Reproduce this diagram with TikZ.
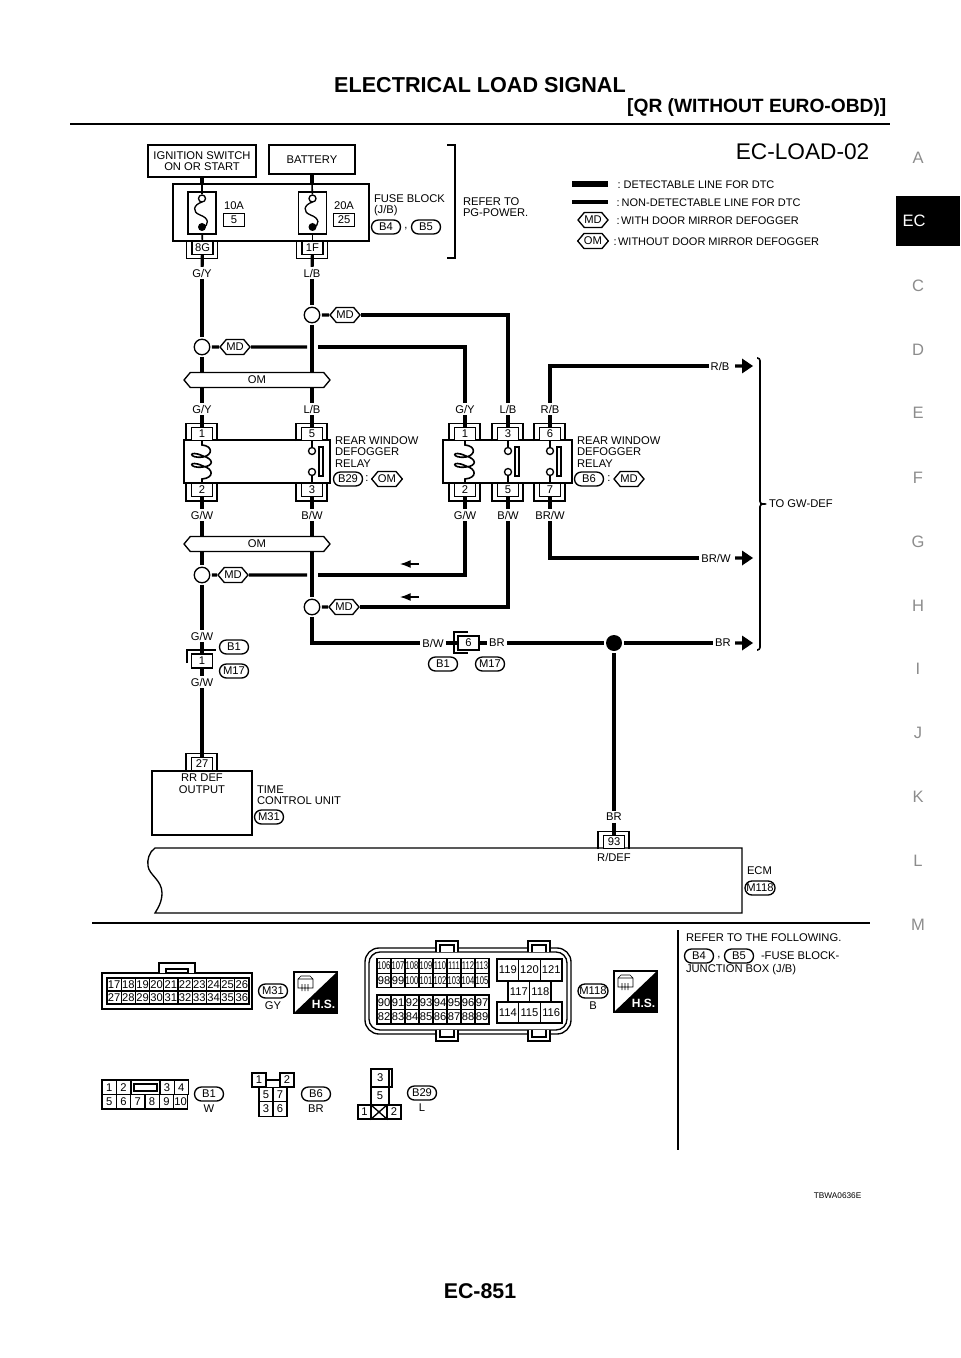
\documentclass[tikz,border=0pt]{standalone}
\usepackage{fontspec}
\setmainfont{Liberation Sans}
\usetikzlibrary{arrows.meta, positioning, shapes.misc, shapes.symbols, calc}
\def\px{0.75pt}
\begin{document}
\begin{tikzpicture}[
            x=\px, y=-\px,
            line width=1pt,
            wl/.style={font=\fontsize{8.4}{8.6}\selectfont, inner sep=1pt, align=left},
            legtext/.style={font=\fontsize{8.25}{8.6}\selectfont, inner sep=0pt, anchor=west},
            cellbox/.style={draw, line width=.85pt, font=\fontsize{8.4}{8.6}\selectfont, inner sep=0pt},
            pinbox/.style={draw, fill=white, font=\fontsize{8.4}{8.6}\selectfont, inner sep=0pt, minimum width=21*\px, minimum height=13*\px},
            pill/.style={draw, font=\fontsize{8.4}{8.6}\selectfont, inner sep=0pt, minimum width=#1*\px, minimum height=14*\px, rounded corners=6.9*\px},
            pill/.default=29,
            hexa/.style={draw, fill=white, font=\fontsize{8.4}{8.6}\selectfont, shape=signal, signal to=west and east, signal pointer angle=100, inner sep=0pt, minimum width=28*\px, minimum height=15*\px},
            band/.style={hexa, minimum width=146*\px, minimum height=15*\px},
            opencirc/.style={draw, circle, fill=white, inner sep=0pt, minimum size=15.5*\px, outer sep=1.6pt},
            smallcirc/.style={draw, circle, fill=white, inner sep=0pt, minimum size=7*\px},
            blackdot/.style={circle, fill=black, inner sep=0pt, minimum size=#1*\px, outer sep=1.6pt},
            wire/.style={line width=2.4pt},
            thin wire/.style={line width=1.2pt},
            tab/.style={font=\fontsize{12.4}{13}\selectfont, text=black!45, inner sep=0pt}
        ]
        \useasboundingbox (0,0) rectangle (960,1358);

        \def\plugtop#1#2#3#4{
            \node[pinbox] (#1) at (#2,#3) {#4};
            \draw (#1.south west) ++(-5,0) -- ++(0,-18) -- ++(31,0) -- ++(0,18);
        }
        \def\plugbot#1#2#3#4{
            \node[pinbox] (#1) at (#2,#3) {#4};
            \draw (#1.north west) ++(-5,0) -- ++(0,18) -- ++(31,0) -- ++(0,-18);
        }
        \def\sigarrow#1#2{
            \fill (#1,#2) +(-18,-1.6) -- +(-11,-1.6) -- +(-11,-7.5) -- +(0,0) -- +(-11,7.5) -- +(-11,1.6) -- +(-18,1.6) -- cycle;
        }
        \def\hsicon#1#2#3{
            \draw (#2,#3) rectangle ++(43,41);
            \fill (#2,#3) ++(43,0) -- ++(0,41) -- ++(-43,0) -- cycle;
            \node[font=\bfseries\fontsize{9}{9}\selectfont, text=white, inner sep=0pt] (#1) at ($(#2,#3)+(29.5,32)$) {H.S.};
            \draw[line width=.5pt] (#2,#3) ++(4,7) -- ++(3,-3) -- ++(9,0) -- ++(3,3) -- ++(0,9) -- ++(-15,0) -- cycle
                (#2,#3) ++(4,7) -- ++(15,0)
                (#2,#3) ++(8,12) -- ++(0,7) ++(3,-7) -- ++(0,7) ++(3,-7) -- ++(0,7);
        }

        % page furniture
        \node[font=\bfseries\fontsize{16.2}{17}\selectfont, inner sep=0pt] (title) at (480,85) {ELECTRICAL LOAD SIGNAL};
        \node[font=\bfseries\fontsize{14.4}{15}\selectfont, inner sep=0pt, anchor=east] (subtitle) at (887,108) {[QR (WITHOUT EURO-OBD)]};
        \coordinate (ruleL) at (70,124);
        \coordinate (ruleR) at (890,124);
        \draw[line width=2.2pt] (ruleL) -- (ruleR);
        \node[font=\fontsize{17}{17}\selectfont, inner sep=0pt, anchor=east] (sheet) at (870,152) {EC-LOAD-02};
        \foreach \t/\y in {A/158, C/286, D/350, E/413, F/478, G/542, H/606, I/669, J/733, K/797, L/861, M/925}
            \node[tab] (tab-\t) at (918,\y) {\t};
        \fill (896,196) rectangle (960,246);
        \node[tab, text=white] (tab-EC) at (914,221) {EC};
        \node[font=\bfseries\fontsize{16}{17}\selectfont, inner sep=0pt] (pageno) at (480,1291) {EC-851};
        \node[font=\fontsize{6.2}{7}\selectfont, inner sep=0pt, anchor=east] (figno) at (862,1196) {TBWA0636E};

        % power feed
        \node[draw, minimum width=108*\px, minimum height=32*\px, inner sep=0pt, align=center, font=\fontsize{8.4}{8.6}\selectfont] (ign) at (202,161) {IGNITION SWITCH\\ON OR START};
        \node[draw, minimum width=86*\px, minimum height=29*\px, inner sep=0pt, font=\fontsize{8.4}{8.6}\selectfont] (bat) at (312,159.5) {BATTERY};
        \node[draw, minimum width=196*\px, minimum height=57*\px] (fb) at (271,212.5) {};
        \node[draw, minimum width=28*\px, minimum height=42*\px] (fuseA) at (202,213) {};
        \node[draw, minimum width=28*\px, minimum height=42*\px] (fuseB) at (312.5,213) {};
        \node[wl] (a10) at (234,206) {10A};
        \node[pinbox] (f5) at (234,220) {5};
        \node[wl] (a20) at (344,206) {20A};
        \node[pinbox] (f25) at (344,220) {25};
        \node[smallcirc] (fao) at (202,198.5) {};
        \node[smallcirc] (fbo) at (312.5,198.5) {};
        \node[blackdot=8] (fad) at (202,227) {};
        \node[blackdot=8] (fbd) at (312.5,227) {};
        \foreach \x in {202, 312.5}
            \draw (\x,202) .. controls (\x-9,205) and (\x-10,212) .. (\x-2,215) .. controls (\x+7,218) and (\x+8,225) .. (\x,228);
        \node[wl, anchor=west] (fbtext) at (372,205) {FUSE BLOCK\\(J/B)};
        \node[pill] (pb4) at (386,227) {B4};
        \node[pill] (pb5) at (426,227) {B5};
        \node[wl] (pcomma) at (406,229) {,};
        \coordinate (refA) at (447,145);
        \coordinate (refB) at (447,258);
        \draw (refA) -- ++(8,0) -- ++(0,113) -- (refB);
        \node[wl, anchor=west] (reftext) at (461,207) {REFER TO\\PG-POWER.};
        \plugbot{p8g}{202.5}{248}{8G}
        \plugbot{p1f}{312.5}{248}{1F}
        \draw[wire] (ign) -- (ign |- fb.north);
        \draw[wire] (bat) -- (bat |- fb.north);
        \draw[thin wire] (ign |- fb.north) -- (fao);
        \draw[thin wire] (bat |- fb.north) -- (fbo);
        \draw[thin wire] (fad) -- (p8g);
        \draw[thin wire] (fbd) -- (p1f);

        % legend
        \coordinate (legA) at (572,184);
        \coordinate (legB) at (608,184);
        \coordinate (legC) at (572,202);
        \coordinate (legD) at (608,202);
        \draw[line width=4.6pt] (legA) -- (legB);
        \draw[wire] (legC) -- (legD);
        \node[legtext] (leg1) at (617,185) {:\hspace{2.2pt}DETECTABLE LINE FOR DTC};
        \node[legtext] (leg2) at (616,203) {:\hspace{1.5pt}NON-DETECTABLE LINE FOR DTC};
        \node[hexa] (leg3h) at (593,220) {MD};
        \node[legtext] (leg3) at (616,221) {:\hspace{1pt}WITH DOOR MIRROR DEFOGGER};
        \node[hexa] (leg4h) at (593,241) {OM};
        \node[legtext] (leg4) at (613,242) {:\hspace{1pt}WITHOUT DOOR MIRROR DEFOGGER};

        % splices above the relays
        \node[wl] (gyA) at (202,273) {G/Y};
        \node[wl] (lbA) at (312,273) {L/B};
        \node[opencirc] (spA) at (202,347) {};
        \node[opencirc] (spB) at (312,315) {};
        \node[hexa] (mdA) at (235,347) {MD};
        \node[hexa] (mdB) at (345,315) {MD};
        \node[wl] (gyB) at (202,409) {G/Y};
        \node[wl] (lbB) at (312,409) {L/B};
        \node[wl] (gyC) at (465,409) {G/Y};
        \node[wl] (lbC) at (508,409) {L/B};
        \node[wl] (rbC) at (550,409) {R/B};
        \node[wl] (rbD) at (720,366) {R/B};
        \coordinate (gapA) at (307,347);
        \coordinate (gapB) at (318,347);
        \draw[wire] (p8g) -- (gyA);
        \draw[wire] (p1f) -- (lbA);
        \draw[wire] (gyA) -- (spA);
        \draw[wire] (lbA) -- (spB);
        \draw[wire] (spA) -- (gyB);
        \draw[wire] (spB) -- (lbB);
        \draw[wire] (spA) -- (mdA);
        \draw[wire] (spB) -- (mdB);
        \draw[wire] (mdA) -- (gapA);
        \draw[wire] (gapB) -| (gyC);
        \draw[wire] (mdB) -| (lbC);
        \draw[wire] (rbC) |- (rbD);
        \node[band] (omA) at (257,380) {OM};

        % relay, OM version
        \node[draw, minimum width=146*\px, minimum height=43*\px] (relA) at (257,461.5) {};
        \plugtop{rA1}{202}{434}{1}
        \plugtop{rA5}{312}{434}{5}
        \plugbot{rA2}{202}{490}{2}
        \plugbot{rA3}{312}{490}{3}
        \node[smallcirc] (rAa) at (312,451) {};
        \node[smallcirc] (rAb) at (312,472) {};
        \node[draw, minimum width=4*\px, minimum height=29*\px, inner sep=0pt] (rAbar) at (321,461.5) {};
        \draw[thin wire] (rA5) -- (rAa);
        \draw[thin wire] (rAb) -- (rA3);
        \node[wl, anchor=west] (rAtext) at (333,452) {REAR WINDOW\\DEFOGGER\\RELAY};
        \node[pill] (pb29) at (348,479) {B29};
        \node[wl] (rAc) at (367,479) {:};
        \node[hexa] (omB) at (387,479) {OM};

        % relay, MD version
        \node[draw, minimum width=129*\px, minimum height=43*\px] (relB) at (507.5,461.5) {};
        \plugtop{rB1}{465}{434}{1}
        \plugtop{rB3}{508}{434}{3}
        \plugtop{rB6}{550}{434}{6}
        \plugbot{rB2}{465}{490}{2}
        \plugbot{rB5}{508}{490}{5}
        \plugbot{rB7}{550}{490}{7}
        \foreach \n/\a/\b/\x in {k/rB3/rB5/508, m/rB6/rB7/550} {
            \node[smallcirc] (rB\n a) at (\x,451) {};
            \node[smallcirc] (rB\n b) at (\x,472) {};
            \node[draw, minimum width=4*\px, minimum height=29*\px, inner sep=0pt] (rB\n bar) at (\x+9,461.5) {};
            \draw[thin wire] (\a) -- (rB\n a);
            \draw[thin wire] (rB\n b) -- (\b);
        }
        \foreach \x in {202, 465}
            \draw[thin wire] (\x,440) -- (\x,445) .. controls (\x+11,446) and (\x+11,455) .. (\x+1,457) .. controls (\x-14,459) and (\x-14,449) .. (\x+1,456)
                .. controls (\x+12,459) and (\x+12,466) .. (\x+1,467) .. controls (\x-14,469) and (\x-14,459) .. (\x+1,466)
                .. controls (\x+12,469) and (\x+12,478) .. (\x,479) -- (\x,483);
        \node[wl, anchor=west] (rBtext) at (575,452) {REAR WINDOW\\DEFOGGER\\RELAY};
        \node[pill] (pb6) at (589,479) {B6};
        \node[wl] (rBc) at (609,479) {:};
        \node[hexa] (mdR) at (629,479) {MD};
        \draw[wire] (gyB) -- (rA1);
        \draw[wire] (lbB) -- (rA5);
        \draw[wire] (gyC) -- (rB1);
        \draw[wire] (lbC) -- (rB3);
        \draw[wire] (rbC) -- (rB6);

        % below the relays
        \node[wl] (gwA) at (202,515) {G/W};
        \node[wl] (bwA) at (312,515) {B/W};
        \node[wl] (gwB) at (465,515) {G/W};
        \node[wl] (bwB) at (508,515) {B/W};
        \node[wl] (brwA) at (550,515) {BR/W};
        \node[wl] (brwB) at (716,558) {BR/W};
        \node[opencirc] (spC) at (202,575) {};
        \node[opencirc] (spD) at (312,607) {};
        \node[hexa] (mdC) at (233,575) {MD};
        \node[hexa] (mdD) at (344,607) {MD};
        \node[wl] (gwC) at (202,636) {G/W};
        \node[wl] (bwC) at (433,643) {B/W};
        \node[pinbox, minimum height=14*\px] (p6) at (468.5,643) {6};
        \draw (468,632) -- (454,632) -- (454,653) -- (468,653);
        \node[wl] (brA) at (497,643) {BR};
        \node[blackdot=16] (jn) at (614,643) {};
        \node[wl] (brB) at (723,643) {BR};
        \node[wl] (brC) at (614,817) {BR};
        \node[pill] (pb1a) at (443,664) {B1};
        \node[pill] (pm17a) at (490,664) {M17};
        \coordinate (gapC) at (307,575);
        \coordinate (gapD) at (318,575);
        \draw[wire] (rA2) -- (gwA);
        \draw[wire] (rA3) -- (bwA);
        \draw[wire] (rB2) -- (gwB);
        \draw[wire] (rB5) -- (bwB);
        \draw[wire] (rB7) -- (brwA);
        \draw[wire] (gwA) -- (spC);
        \draw[wire] (bwA) -- (spD);
        \draw[wire] (spC) -- (mdC);
        \draw[wire] (spD) -- (mdD);
        \draw[wire] (mdC) -- (gapC);
        \draw[wire] (gapD) -| (gwB);
        \draw[wire] (mdD) -| (bwB);
        \draw[wire] (brwA) |- (brwB);
        \draw[wire] (spC) -- (gwC);
        \draw[wire] (spD) |- (bwC);
        \draw[wire] (bwC) -- (p6);
        \draw[wire] (p6) -- (brA);
        \draw[wire] (brA) -- (jn);
        \draw[wire] (jn) -- (brB);
        \draw[wire] (jn) -- (brC);
        \node[band] (omC) at (257,544) {OM};
        \coordinate (flowAs) at (419,564);
        \coordinate (flowAe) at (400,564);
        \coordinate (flowBs) at (419,597);
        \coordinate (flowBe) at (400,597);
        \draw[-{Latex[length=8pt,width=6pt]}] (flowAs) -- (flowAe);
        \draw[-{Latex[length=8pt,width=6pt]}] (flowBs) -- (flowBe);

        % outputs to GW-DEF
        \sigarrow{753}{366}
        \sigarrow{753}{558}
        \sigarrow{753}{643}
        \coordinate (brkA) at (757,358);
        \coordinate (brkB) at (757,650);
        \draw[line width=1.2pt, rounded corners=2pt] (brkA) -- (760,358) -- (760,504) -- (763,504) -- (760,504) -- (760,650) -- (brkB);
        \node[wl, anchor=west] (gwdef) at (767,504) {TO GW-DEF};

        % time control unit
        \node[pinbox, minimum height=14*\px] (p1b) at (202,661) {1};
        \draw (187,663) -- (187,650) -- (216,650);
        \node[pill] (pb1b) at (234,647) {B1};
        \node[pill] (pm17b) at (234,671) {M17};
        \node[wl] (gwD) at (202,682) {G/W};
        \plugtop{p27}{202}{764}{27}
        \node[draw, minimum width=100*\px, minimum height=64*\px] (tcu) at (202,803) {};
        \node[wl, align=center, anchor=north] (tcuT) at (202,772) {RR DEF\\OUTPUT};
        \node[wl, anchor=west] (tcuL) at (255,795) {TIME\\CONTROL UNIT};
        \node[pill] (pm31) at (269,817) {M31};
        \draw[wire] (gwC) -- (p1b);
        \draw[wire] (p1b) -- (gwD);
        \draw[wire] (gwD) -- (p27);

        % ecm
        \draw (742,848) -- (155,848) .. controls (149,852) and (147,860) .. (148,866) .. controls (149,875) and (162,880) .. (162,893)
            .. controls (162,902) and (158,908) .. (155,913) -- (742,913) -- cycle;
        \plugtop{p93}{614}{842}{93}
        \node[wl] (rdef) at (614,857) {R/DEF};
        \node[wl, anchor=west] (ecm) at (745,871) {ECM};
        \node[pill=30] (pm118) at (760,888) {M118};
        \draw[wire] (brC) -- (p93);

        % lower panel
        \coordinate (lowA) at (92,923);
        \coordinate (lowB) at (870,923);
        \coordinate (lowC) at (678,930);
        \coordinate (lowD) at (678,1150);
        \draw (lowA) -- (lowB);
        \draw (lowC) -- (lowD);
        \node[wl, anchor=west] (noteA) at (684,938) {REFER TO THE FOLLOWING.};
        \node[pill] (npb4) at (699,956) {B4};
        \node[wl] (ncm) at (719,958) {,};
        \node[pill] (npb5) at (739,956) {B5};
        \node[wl, anchor=west] (noteB) at (759,956) {-FUSE BLOCK-};
        \node[wl, anchor=west] (noteC) at (684,970) {JUNCTION BOX (J/B)};

        % connector M31
        \draw (102,973) rectangle (252,1009);
        \draw[fill=white] (159,973) |- (195,963) -- (195,973);
        \draw[line width=1.2pt] (166,969) rectangle (188,973);
        \foreach \n [count=\i from 0] in {17,...,26}
            \node[cellbox, minimum width=14.2*\px, minimum height=13*\px] (m31-\n) at (114.1+\i*14.2,984.5) {\n};
        \foreach \n [count=\i from 0] in {27,...,36}
            \node[cellbox, minimum width=14.2*\px, minimum height=13*\px] (m31-\n) at (114.1+\i*14.2,997.5) {\n};
        \node[pill] (lm31) at (273,991) {M31};
        \node[wl] (lgy) at (273,1006) {GY};
        \hsicon{hsA}{294}{972}

        % connector M118
        \draw[rounded corners=14*\px] (365,948) rectangle (571,1034);
        \draw[rounded corners=11*\px] (369,952) rectangle (567,1030);
        \foreach \x in {436, 528} {
            \draw[fill=white] (\x,952) |- (\x+22,941) -- (\x+22,952);
            \draw (\x+4,952) |- (\x+18,945) -- (\x+18,952);
            \draw[fill=white] (\x,1030) |- (\x+22,1041) -- (\x+22,1030);
            \draw (\x+4,1030) |- (\x+18,1037) -- (\x+18,1030);
        }
        \def\nar#1{\scalebox{.68}[1]{#1}}
        \foreach \n [count=\i from 0] in {106,...,113}
            \node[cellbox, minimum width=14*\px, minimum height=14.2*\px] (m118-\n) at (384+\i*14,966) {\nar{\n}};
        \foreach \n [count=\i from 0] in {98,99,100,101,102,103,104,105}
            \node[cellbox, minimum width=14*\px, minimum height=14.2*\px] (m118-\n) at (384+\i*14,980.2) {\ifnum\n<100 \n\else\nar{\n}\fi};
        \foreach \n [count=\i from 0] in {90,...,97}
            \node[cellbox, minimum width=14*\px, minimum height=14.5*\px] (m118-\n) at (384+\i*14,1002.2) {\n};
        \foreach \n [count=\i from 0] in {82,...,89}
            \node[cellbox, minimum width=14*\px, minimum height=14.5*\px] (m118-\n) at (384+\i*14,1016.7) {\n};
        \foreach \n [count=\i from 0] in {119,120,121}
            \node[cellbox, minimum width=21.7*\px, minimum height=22*\px] (m118-\n) at (507.8+\i*21.7,970) {\n};
        \foreach \n [count=\i from 0] in {117,118}
            \node[cellbox, minimum width=21.5*\px, minimum height=21*\px] (m118-\n) at (518.8+\i*21.5,991.5) {\n};
        \foreach \n [count=\i from 0] in {114,115,116}
            \node[cellbox, minimum width=21.7*\px, minimum height=21*\px] (m118-\n) at (507.8+\i*21.7,1012.5) {\n};
        \node[pill=30] (lm118) at (593,991) {M118};
        \node[wl] (lb) at (593,1006) {B};
        \hsicon{hsB}{614}{971}

        % connector B1
        \foreach \n/\x in {1/109.2, 2/123.5, 3/167, 4/181.3}
            \node[cellbox, minimum width=14.3*\px, minimum height=14.5*\px] (b1-\n) at (\x,1087.2) {\n};
        \node[cellbox, minimum width=29*\px, minimum height=14.5*\px] (b1-slot) at (145.5,1087.2) {};
        \draw[line width=1.2pt] (134,1084) rectangle (157,1091);
        \foreach \n [count=\i from 0] in {5,...,10}
            \node[cellbox, minimum width=14.3*\px, minimum height=14.5*\px] (b1-\n) at (109.2+\i*14.3,1101.7) {\n};
        \node[pill] (lb1) at (209,1094) {B1};
        \node[wl] (lw) at (209,1109) {W};

        % connector B6
        \node[cellbox, minimum width=14*\px, minimum height=14*\px] (b6-1) at (259,1080) {1};
        \node[cellbox, minimum width=14*\px, minimum height=14*\px] (b6-2) at (287,1080) {2};
        \draw (b6-1.east) -- (b6-2.west);
        \foreach \n/\x/\y in {5/266/1094.5, 7/280/1094.5, 3/266/1109, 6/280/1109}
            \node[cellbox, minimum width=14*\px, minimum height=14.5*\px] (b6-\n) at (\x,\y) {\n};
        \node[pill] (lb6) at (316,1094) {B6};
        \node[wl] (lbr) at (316,1109) {BR};

        % connector B29
        \node[cellbox, minimum width=21*\px, minimum height=18*\px] (b29-3) at (381.5,1078) {\hspace*{-2pt}3};
        \draw (389,1069) -- (389,1087);
        \node[cellbox, minimum width=18*\px, minimum height=18*\px] (b29-5) at (380,1096) {5};
        \node[cellbox, minimum width=13*\px, minimum height=14*\px] (b29-1) at (364.5,1112) {1};
        \node[draw, minimum width=16*\px, minimum height=14*\px, cross out, inner sep=0pt] (b29-x) at (379,1112) {};
        \draw (371,1105) rectangle (387,1119);
        \node[cellbox, minimum width=14*\px, minimum height=14*\px] (b29-2) at (394,1112) {2};
        \node[pill] (lb29) at (422,1093) {B29};
        \node[wl] (ll) at (422,1108) {L};
    \end{tikzpicture}
\end{document}
